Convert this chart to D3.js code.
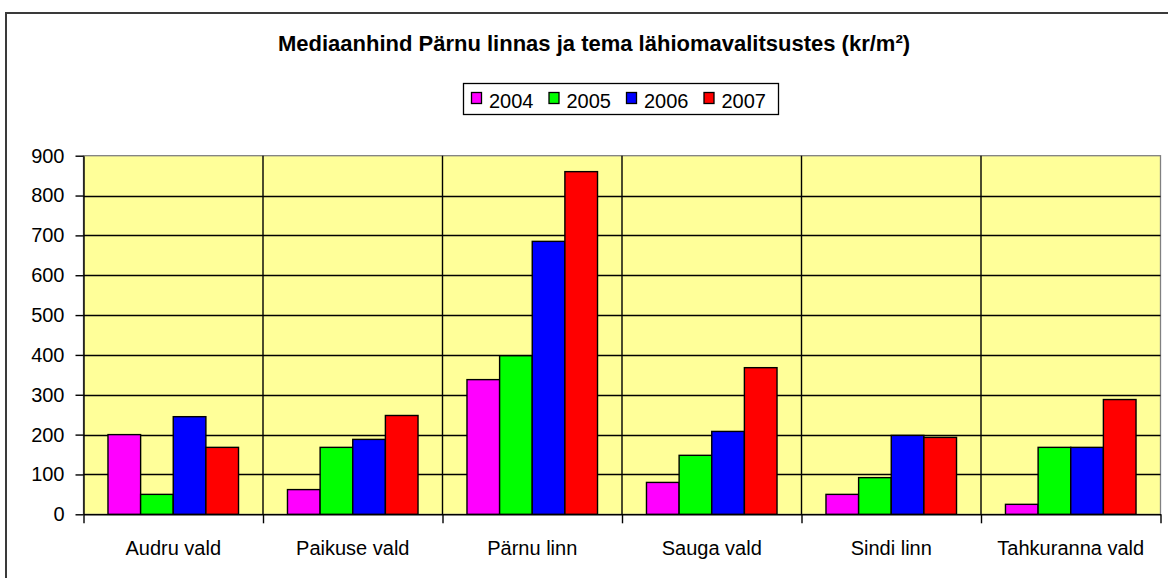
<!DOCTYPE html>
<html>
<head>
<meta charset="utf-8">
<script src="https://cdn.jsdelivr.net/npm/d3@7"></script>
<style>
  html, body { margin: 0; padding: 0; background: #fff; }
  svg { display: block; }
  text { font-family: "Liberation Sans", Arial, sans-serif; fill: #000; }
</style>
</head>
<body>
<svg id="chart" width="1168" height="578"></svg>
<script>
const categories = ["Audru vald", "Paikuse vald", "Pärnu linn", "Sauga vald", "Sindi linn", "Tahkuranna vald"];
const seriesNames = ["2004", "2005", "2006", "2007"];
const values2004 = [200, 62, 338, 80, 50, 25];
const values2005 = [50, 168, 398, 148, 92, 168];
const values2006 = [245, 188, 685, 208, 198, 168];
const values2007 = [168, 248, 860, 368, 193, 288];
const seriesColors = ["#FF00FF", "#00FF00", "#0000FF", "#FF0000"];
const yTicks = [0, 100, 200, 300, 400, 500, 600, 700, 800, 900];
const titleText = "Mediaanhind Pärnu linnas ja tema lähiomavalitsustes (kr/m²)";

const seriesValues = [values2004, values2005, values2006, values2007];

const svg = d3.select("#chart");

// outer chart border (right and bottom edges fall outside the view)
svg.append("rect")
  .attr("x", 6).attr("y", 13)
  .attr("width", 1200).attr("height", 600)
  .attr("fill", "#fff")
  .attr("stroke", "#3a3a3a")
  .attr("stroke-width", 2);

const plot = { left: 83.5, right: 1160.5, top: 155.7, bottom: 514.3 };

const x0 = d3.scaleBand().domain(categories).range([plot.left, plot.right]).padding(0);
const x1 = d3.scaleBand().domain(seriesNames).range([0, x0.bandwidth()]).paddingInner(0).paddingOuter(0.75);
const y = d3.scaleLinear().domain([0, 900]).range([plot.bottom, plot.top]);

// plot background
svg.append("rect")
  .attr("x", plot.left).attr("y", plot.top)
  .attr("width", plot.right - plot.left).attr("height", plot.bottom - plot.top)
  .attr("fill", "#FFFF99")
  .attr("stroke", "#808080")
  .attr("stroke-width", 1.3);

// horizontal gridlines
svg.append("g").selectAll("line")
  .data(yTicks.filter(d => d > 0 && d < 900))
  .join("line")
  .attr("x1", plot.left).attr("x2", plot.right)
  .attr("y1", d => Math.round(y(d)) + 0.5).attr("y2", d => Math.round(y(d)) + 0.5)
  .attr("stroke", "#000").attr("stroke-width", 1.4);

// vertical category dividers
svg.append("g").selectAll("line")
  .data(categories.slice(1))
  .join("line")
  .attr("x1", d => x0(d)).attr("x2", d => x0(d))
  .attr("y1", plot.top).attr("y2", plot.bottom)
  .attr("stroke", "#000").attr("stroke-width", 1.4);

// bars
const groups = svg.append("g").selectAll("g")
  .data(categories)
  .join("g")
  .attr("transform", d => `translate(${x0(d)},0)`);

groups.selectAll("rect")
  .data((c, i) => seriesNames.map((s, j) => ({ s, v: seriesValues[j][i], color: seriesColors[j] })))
  .join("rect")
  .attr("x", d => x1(d.s))
  .attr("y", d => y(d.v))
  .attr("width", x1.bandwidth())
  .attr("height", d => y(0) - y(d.v))
  .attr("fill", d => d.color)
  .attr("stroke", "#000")
  .attr("stroke-width", 1.4);

// y axis
const yAxis = d3.axisLeft(y).tickValues(yTicks).tickSize(8).tickPadding(11).tickSizeOuter(0);
const gy = svg.append("g").attr("transform", `translate(${plot.left},0)`).call(yAxis);
gy.select(".domain").attr("stroke", "#000").attr("stroke-width", 1.4);
gy.selectAll(".tick line").attr("stroke", "#000").attr("stroke-width", 1.4);
gy.selectAll(".tick text")
  .attr("font-family", "Liberation Sans, Arial, sans-serif")
  .attr("font-size", 20).attr("fill", "#000");

// x axis (ticks at category boundaries)
const boundaries = categories.map(c => x0(c)).concat([plot.right]);
const xb = d3.scaleLinear().domain([plot.left, plot.right]).range([plot.left, plot.right]);
const xAxis = d3.axisBottom(xb).tickValues(boundaries).tickSize(9).tickFormat("").tickSizeOuter(0);
const gx = svg.append("g").attr("transform", `translate(0,${plot.bottom})`).call(xAxis);
gx.select(".domain").attr("stroke", "#000").attr("stroke-width", 1.4);
gx.selectAll(".tick line").attr("stroke", "#000").attr("stroke-width", 1.4);

svg.append("g").selectAll("text")
  .data(categories)
  .join("text")
  .attr("x", d => x0(d) + x0.bandwidth() / 2)
  .attr("y", 555)
  .attr("text-anchor", "middle")
  .attr("font-size", 20)
  .text(d => d);

// title
svg.append("text")
  .attr("x", 594).attr("y", 51)
  .attr("text-anchor", "middle")
  .attr("font-size", 22)
  .attr("font-weight", "bold")
  .text(titleText);

// legend
const legend = svg.append("g");
legend.append("rect")
  .attr("x", 463.5).attr("y", 83.5)
  .attr("width", 315).attr("height", 31)
  .attr("fill", "#fff").attr("stroke", "#000").attr("stroke-width", 1.3);
const items = legend.selectAll("g.item")
  .data(seriesNames)
  .join("g")
  .attr("class", "item")
  .attr("transform", (d, i) => `translate(${471 + i * 77.5},0)`);
items.append("rect")
  .attr("x", 0.5).attr("y", 92.5)
  .attr("width", 10).attr("height", 11)
  .attr("fill", (d, i) => seriesColors[i])
  .attr("stroke", "#000").attr("stroke-width", 1.3);
items.append("text")
  .attr("x", 18).attr("y", 108)
  .attr("font-size", 20)
  .text(d => d);
</script>
</body>
</html>
